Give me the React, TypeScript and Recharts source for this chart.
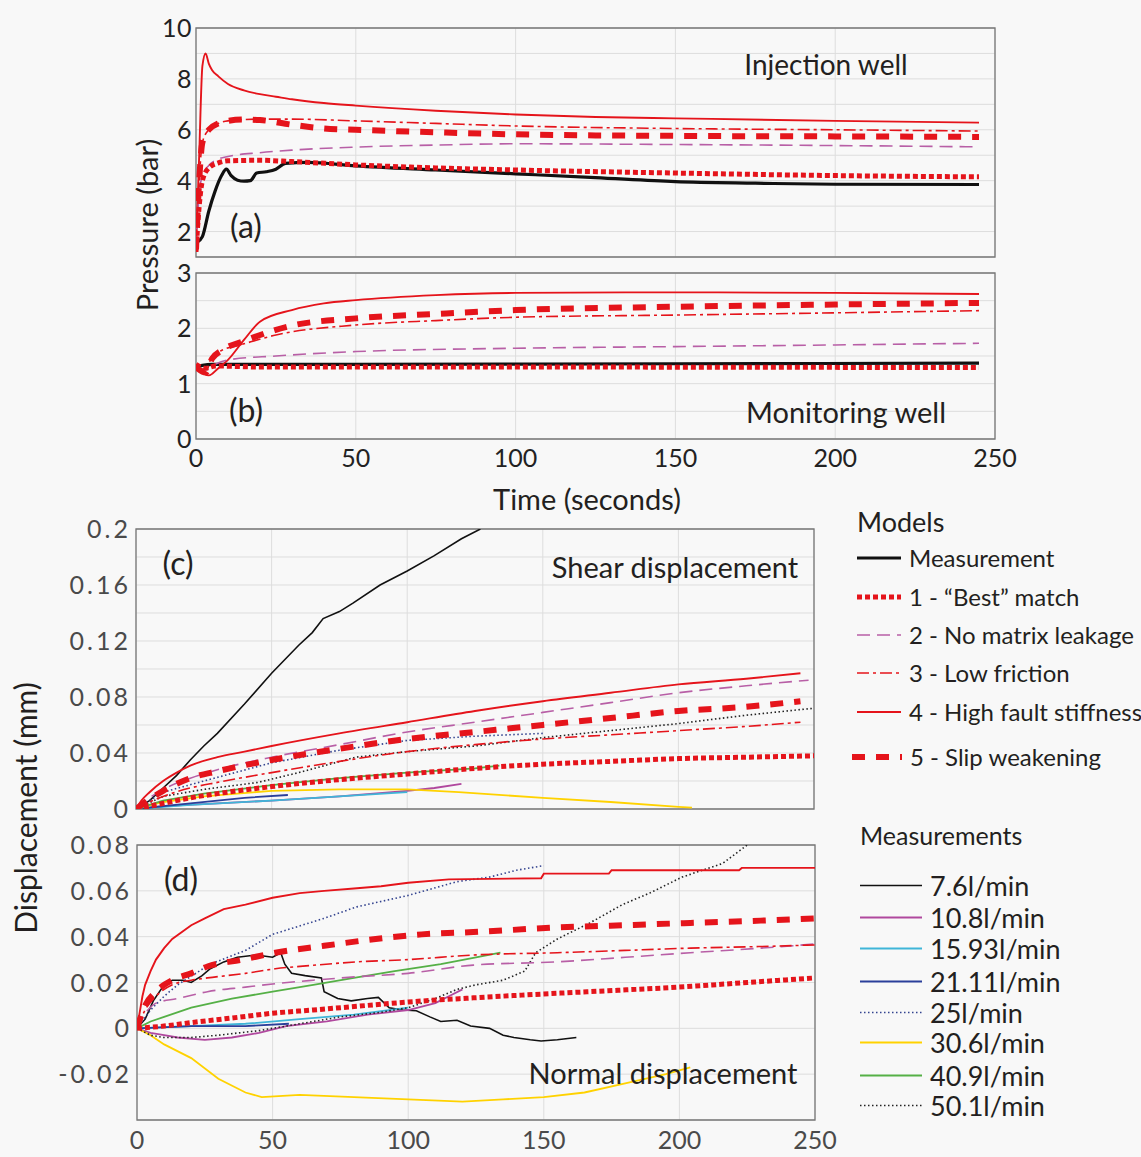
import { LineChart, Line, XAxis, YAxis, CartesianGrid, ReferenceArea } from "recharts";

type Pt = [number, number];

const TIME_TICKS = [0, 50, 100, 150, 200, 250];

// (a) injection well pressure, bar
const injMeasured: Pt[] = [[0.5, 1.6], [2, 1.8], [4, 2.8], [6, 3.6], [8, 4.2], [9.5, 4.45], [11, 4.2], [13, 4.02], [15, 3.98], [17, 4.0], [19, 4.3], [22, 4.35], [25, 4.45], [28, 4.68], [35, 4.72], [50, 4.58], [75, 4.42], [100, 4.27], [125, 4.12], [150, 3.96], [175, 3.9], [200, 3.86], [245, 3.85]];
const injBest: Pt[] = [[0, 1.2], [1, 3.0], [2, 4.0], [4, 4.5], [7, 4.7], [10, 4.78], [20, 4.8], [30, 4.75], [50, 4.62], [75, 4.5], [100, 4.42], [150, 4.3], [200, 4.2], [245, 4.15]];
const injNoLeak: Pt[] = [[0, 1.3], [1, 3.5], [2, 4.2], [4, 4.6], [7, 4.85], [10, 4.95], [20, 5.1], [30, 5.2], [50, 5.32], [75, 5.4], [100, 5.45], [150, 5.42], [200, 5.38], [245, 5.33]];
const injLowFric: Pt[] = [[0, 1.3], [1, 4], [2, 5.5], [4, 6.0], [7, 6.25], [10, 6.35], [20, 6.42], [30, 6.42], [50, 6.35], [75, 6.25], [100, 6.15], [150, 6.05], [200, 6.0], [245, 5.95]];
const injStiff: Pt[] = [[0, 1.3], [1, 5], [2, 8.5], [3, 9.0], [4, 8.6], [5, 8.35], [7, 8.1], [10, 7.8], [15, 7.55], [20, 7.4], [25, 7.3], [30, 7.2], [40, 7.05], [50, 6.95], [75, 6.75], [100, 6.6], [125, 6.5], [150, 6.45], [200, 6.35], [245, 6.28]];
const injSlip: Pt[] = [[0, 1.3], [1, 4], [2, 5.5], [4, 6.0], [7, 6.25], [10, 6.35], [15, 6.4], [20, 6.38], [30, 6.2], [40, 6.05], [50, 6.0], [75, 5.9], [100, 5.82], [150, 5.76], [200, 5.74], [245, 5.72]];

// (b) monitoring well pressure, bar
const monMeasured: Pt[] = [[0, 1.3], [2, 1.33], [5, 1.35], [50, 1.35], [150, 1.36], [245, 1.37]];
const monBest: Pt[] = [[0, 1.35], [3, 1.28], [6, 1.32], [20, 1.3], [100, 1.3], [245, 1.29]];
const monNoLeak: Pt[] = [[0, 1.3], [3, 1.25], [6, 1.35], [10, 1.43], [25, 1.5], [50, 1.58], [100, 1.64], [150, 1.67], [200, 1.7], [245, 1.73]];
const monLowFric: Pt[] = [[0, 1.3], [3, 1.2], [5, 1.5], [8, 1.6], [15, 1.72], [25, 1.88], [50, 2.06], [75, 2.14], [100, 2.2], [150, 2.24], [200, 2.28], [245, 2.32]];
const monStiff: Pt[] = [[0, 1.3], [4, 1.15], [7, 1.28], [10, 1.43], [15, 1.79], [20, 2.12], [30, 2.33], [40, 2.45], [50, 2.51], [75, 2.6], [100, 2.64], [150, 2.65], [200, 2.64], [245, 2.62]];
const monSlip: Pt[] = [[0, 1.3], [3, 1.2], [5, 1.45], [8, 1.6], [15, 1.77], [30, 2.05], [50, 2.18], [75, 2.26], [100, 2.33], [150, 2.39], [200, 2.43], [245, 2.46]];

// (c) shear displacement, mm
const shear76: Pt[] = [[0, 0], [5, 0.006], [10, 0.015], [15, 0.024], [20, 0.035], [25, 0.045], [30, 0.054], [40, 0.075], [50, 0.097], [60, 0.117], [65, 0.126], [69, 0.136], [75, 0.141], [80, 0.147], [90, 0.16], [100, 0.17], [110, 0.181], [120, 0.193], [127, 0.2]];
const shear108: Pt[] = [[0, 0], [10, 0.002], [30, 0.004], [50, 0.006], [75, 0.009], [100, 0.013], [110, 0.015], [120, 0.018]];
const shear1593: Pt[] = [[0, 0], [20, 0.003], [50, 0.006], [75, 0.009], [100, 0.012]];
const shear2111: Pt[] = [[0, 0], [20, 0.004], [40, 0.008], [56, 0.01]];
const shear25: Pt[] = [[0, 0], [10, 0.012], [25, 0.02], [50, 0.033], [75, 0.042], [100, 0.049], [125, 0.052], [150, 0.054]];
const shear306: Pt[] = [[0, 0], [10, 0.005], [25, 0.009], [50, 0.013], [75, 0.014], [100, 0.014], [119, 0.012], [150, 0.008], [175, 0.005], [200, 0.0015], [205, 0.001]];
const shear409: Pt[] = [[0, 0], [10, 0.006], [25, 0.011], [50, 0.017], [75, 0.022], [100, 0.026], [125, 0.029], [134, 0.031]];
const shear501: Pt[] = [[0, 0], [10, 0.009], [25, 0.014], [45, 0.019], [60, 0.026], [81, 0.037], [100, 0.041], [125, 0.045], [150, 0.051], [175, 0.056], [200, 0.061], [225, 0.067], [250, 0.072]];
const shearBest: Pt[] = [[0, 0], [10, 0.004], [20, 0.008], [30, 0.011], [50, 0.016], [75, 0.021], [100, 0.025], [125, 0.029], [150, 0.032], [175, 0.034], [200, 0.036], [225, 0.037], [250, 0.038]];
const shearNoLeak: Pt[] = [[0, 0], [5, 0.008], [10, 0.014], [20, 0.022], [30, 0.028], [50, 0.037], [75, 0.046], [100, 0.055], [125, 0.062], [150, 0.069], [175, 0.076], [200, 0.083], [225, 0.088], [248, 0.092]];
const shearLowFric: Pt[] = [[0, 0], [5, 0.005], [10, 0.009], [20, 0.015], [30, 0.019], [50, 0.026], [75, 0.034], [100, 0.041], [125, 0.046], [150, 0.05], [175, 0.053], [200, 0.056], [225, 0.059], [245, 0.062]];
const shearStiff: Pt[] = [[0, 0], [2, 0.006], [5, 0.012], [10, 0.02], [15, 0.026], [20, 0.031], [30, 0.037], [40, 0.041], [50, 0.045], [75, 0.054], [100, 0.062], [125, 0.07], [150, 0.077], [175, 0.083], [200, 0.089], [225, 0.093], [245, 0.097]];
const shearSlip: Pt[] = [[0, 0], [5, 0.007], [10, 0.013], [20, 0.022], [30, 0.027], [50, 0.035], [75, 0.043], [100, 0.05], [125, 0.055], [150, 0.06], [175, 0.065], [200, 0.07], [225, 0.073], [245, 0.077]];

// (d) normal displacement, mm
const normal76: Pt[] = [[0, 0], [3, 0.004], [6, 0.012], [10, 0.019], [13, 0.021], [17, 0.021], [20, 0.02], [24, 0.023], [27, 0.026], [32, 0.029], [37, 0.031], [44, 0.032], [50, 0.031], [53, 0.033], [54.5, 0.028], [57, 0.024], [62, 0.023], [68, 0.022], [69, 0.016], [74, 0.013], [79, 0.012], [85, 0.013], [89, 0.0135], [93, 0.009], [98, 0.008], [103, 0.0077], [108, 0.005], [112, 0.003], [118, 0.0035], [123, 0.001], [130, 0], [135, -0.003], [139, -0.004], [145, -0.005], [149, -0.0055], [155, -0.005], [162, -0.004]];
const normal108: Pt[] = [[0, 0], [5, -0.002], [10, -0.003], [15, -0.004], [25, -0.005], [35, -0.004], [45, -0.002], [55, 0.001], [70, 0.003], [85, 0.006], [100, 0.008], [110, 0.011], [115, 0.014], [120, 0.017]];
const normal1593: Pt[] = [[0, 0], [20, 0.001], [40, 0.002], [60, 0.004], [80, 0.006], [100, 0.009]];
const normal2111: Pt[] = [[0, 0], [20, 0.001], [40, 0.001], [56, 0.002]];
const normal25: Pt[] = [[0, 0], [5, 0.008], [10, 0.014], [15, 0.019], [27, 0.028], [40, 0.034], [50, 0.041], [69, 0.048], [81, 0.053], [100, 0.058], [118, 0.064], [130, 0.066], [140, 0.069], [150, 0.071]];
const normal306: Pt[] = [[0, 0], [5, -0.003], [10, -0.007], [20, -0.013], [30, -0.022], [40, -0.028], [46, -0.03], [60, -0.029], [80, -0.03], [100, -0.031], [120, -0.032], [135, -0.031], [150, -0.03], [165, -0.028], [180, -0.024], [195, -0.02], [204, -0.017]];
const normal409: Pt[] = [[0, 0], [5, 0.003], [10, 0.005], [20, 0.009], [35, 0.013], [50, 0.016], [65, 0.019], [80, 0.022], [95, 0.025], [112, 0.028], [125, 0.031], [134, 0.033]];
const normal501: Pt[] = [[0, 0], [5, -0.003], [10, -0.004], [20, -0.004], [30, -0.003], [45, -0.001], [60, 0.002], [75, 0.005], [90, 0.007], [100, 0.009], [110, 0.013], [118, 0.017], [125, 0.019], [135, 0.021], [143, 0.025], [147, 0.033], [155, 0.039], [167, 0.046], [179, 0.054], [189, 0.059], [201, 0.066], [216, 0.072], [225, 0.08]];
const normalBest: Pt[] = [[0, 0], [10, 0.001], [20, 0.0025], [35, 0.0045], [51, 0.0067], [65, 0.008], [81, 0.0096], [100, 0.0115], [124, 0.0133], [150, 0.015], [179, 0.0167], [200, 0.018], [225, 0.02], [250, 0.022]];
const normalNoLeak: Pt[] = [[0, 0], [2, 0.005], [4, 0.008], [7, 0.011], [15, 0.013], [26, 0.016], [40, 0.018], [51, 0.0195], [65, 0.021], [81, 0.0225], [100, 0.024], [124, 0.0276], [155, 0.029], [180, 0.031], [204, 0.033], [230, 0.035], [250, 0.0368]];
const normalLowFric: Pt[] = [[0, 0], [3, 0.008], [7, 0.014], [13, 0.019], [20, 0.021], [26, 0.022], [40, 0.024], [51, 0.026], [65, 0.0275], [81, 0.029], [100, 0.03], [124, 0.032], [155, 0.033], [180, 0.034], [204, 0.035], [230, 0.0357], [250, 0.0364]];
const normalStiff: Pt[] = [[0, 0], [1, 0.007], [2, 0.014], [3, 0.019], [5, 0.025], [7, 0.03], [10, 0.035], [13, 0.039], [20, 0.045], [25, 0.048], [32, 0.052], [40, 0.054], [50, 0.057], [60, 0.059], [69, 0.06], [80, 0.061], [90, 0.062], [100, 0.0635], [115, 0.065], [149, 0.0655], [150, 0.0675], [174, 0.0675], [175, 0.069], [222, 0.069], [223, 0.07], [250, 0.07]];
const normalSlip: Pt[] = [[0, 0], [3, 0.01], [7, 0.016], [13, 0.021], [20, 0.024], [26, 0.027], [39, 0.03], [51, 0.033], [69, 0.036], [88, 0.039], [105, 0.041], [124, 0.042], [155, 0.044], [180, 0.045], [204, 0.046], [230, 0.047], [250, 0.048]];

const RED = "#e5141b";
const PINK = "#b85fa6";
const INK = "#231f20";

type LineStyle = { stroke: string; width: number; dash?: string };

const modelStyle: Record<string, LineStyle> = {
  measured: { stroke: "#111111", width: 3.2 },
  best: { stroke: RED, width: 5, dash: "5 3" },
  noLeak: { stroke: PINK, width: 1.6, dash: "13 7" },
  lowFric: { stroke: RED, width: 1.6, dash: "12 4 3 4" },
  stiff: { stroke: RED, width: 1.9 },
  slip: { stroke: RED, width: 6, dash: "13 11" },
};

const rateStyle: Record<string, LineStyle> = {
  r76: { stroke: "#111111", width: 1.6 },
  r108: { stroke: "#b0489e", width: 1.8 },
  r1593: { stroke: "#3fb5d8", width: 1.8 },
  r2111: { stroke: "#2b3f9a", width: 1.8 },
  r25: { stroke: "#33438f", width: 1.6, dash: "1.5 2.5" },
  r306: { stroke: "#ffd200", width: 1.8 },
  r409: { stroke: "#55b046", width: 1.8 },
  r501: { stroke: "#222222", width: 1.6, dash: "1.5 2.5" },
};

type Series = { id: string; pts: Pt[]; style: LineStyle; curve?: "linear" | "monotone" };

const toRows = (pts: Pt[]) => pts.map(([t, v]) => ({ t, v }));

interface PanelProps {
  x: number;
  y: number;
  plotW: number;
  plotH: number;
  yAxisW: number;
  xAxisH?: number;
  xTickGap?: number;
  domain: [number, number];
  ticks: number[];
  labels: number[];
  series: Series[];
  tickColor: string;
  tickGap: number;
  tickSpacing: number;
  rightTicks?: boolean;
}

function Panel({ x, y, plotW, plotH, yAxisW, xAxisH, xTickGap = 4, domain, ticks, labels, series, tickColor, tickGap, tickSpacing, rightTicks }: PanelProps) {
  const bottomPad = 16;
  const margin = { top: 22, right: 36, bottom: xAxisH ? 0 : bottomPad, left: 0 };
  const width = yAxisW + plotW + margin.right;
  const height = margin.top + plotH + (xAxisH ?? bottomPad);

  // only every other gridline value carries a label
  const renderYTick = (p: any) => {
    const v = p.payload.value as number;
    if (!labels.includes(v)) return <g />;
    return (
      <text x={p.x} y={p.y} dy="0.36em" textAnchor="end" fontSize={25} fill={tickColor} letterSpacing={tickSpacing}>
        {String(v)}
      </text>
    );
  };

  return (
    <div style={{ position: "absolute", left: x - yAxisW, top: y - margin.top }}>
      <LineChart width={width} height={height} margin={margin}>
        <CartesianGrid stroke="#dddddd" strokeWidth={1} />
        <XAxis
          dataKey="t"
          type="number"
          domain={[0, 250]}
          ticks={TIME_TICKS}
          hide={!xAxisH}
          height={xAxisH ?? 0}
          allowDataOverflow
          tickLine={false}
          axisLine={false}
          tickMargin={xTickGap}
          tick={{ fontSize: 25, fill: tickColor }}
        />
        <YAxis
          type="number"
          domain={domain}
          ticks={ticks}
          interval={0}
          width={yAxisW}
          allowDataOverflow
          tickLine={false}
          axisLine={false}
          tickSize={0}
          tickMargin={tickGap}
          tick={renderYTick}
        />
        {rightTicks && (
          <YAxis
            yAxisId="r"
            orientation="right"
            mirror
            type="number"
            domain={domain}
            ticks={ticks}
            interval={0}
            width={8}
            tick={false}
            tickSize={6}
            axisLine={false}
            tickLine={{ stroke: "#777777" }}
          />
        )}
        <ReferenceArea x1={0} x2={250} y1={domain[0]} y2={domain[1]} fill="none" stroke="#777777" strokeWidth={1.3} />
        {series.map((s) => (
          <Line
            key={s.id}
            data={toRows(s.pts)}
            dataKey="v"
            type={s.curve ?? "linear"}
            stroke={s.style.stroke}
            strokeWidth={s.style.width}
            strokeDasharray={s.style.dash}
            dot={false}
            activeDot={false}
            isAnimationActive={false}
          />
        ))}
      </LineChart>
    </div>
  );
}

const injSeries: Series[] = [
  { id: "measured", pts: injMeasured, style: modelStyle.measured, curve: "monotone" },
  { id: "stiff", pts: injStiff, style: modelStyle.stiff, curve: "monotone" },
  { id: "lowFric", pts: injLowFric, style: modelStyle.lowFric, curve: "monotone" },
  { id: "noLeak", pts: injNoLeak, style: modelStyle.noLeak, curve: "monotone" },
  { id: "slip", pts: injSlip, style: modelStyle.slip, curve: "monotone" },
  { id: "best", pts: injBest, style: modelStyle.best, curve: "monotone" },
];

const monSeries: Series[] = [
  { id: "measured", pts: monMeasured, style: modelStyle.measured, curve: "monotone" },
  { id: "stiff", pts: monStiff, style: modelStyle.stiff, curve: "monotone" },
  { id: "lowFric", pts: monLowFric, style: modelStyle.lowFric, curve: "monotone" },
  { id: "noLeak", pts: monNoLeak, style: modelStyle.noLeak, curve: "monotone" },
  { id: "slip", pts: monSlip, style: modelStyle.slip, curve: "monotone" },
  { id: "best", pts: monBest, style: modelStyle.best, curve: "monotone" },
];

const shearSeries: Series[] = [
  { id: "r76", pts: shear76, style: rateStyle.r76 },
  { id: "r108", pts: shear108, style: rateStyle.r108 },
  { id: "r1593", pts: shear1593, style: rateStyle.r1593 },
  { id: "r2111", pts: shear2111, style: rateStyle.r2111 },
  { id: "r25", pts: shear25, style: rateStyle.r25 },
  { id: "r306", pts: shear306, style: rateStyle.r306 },
  { id: "r409", pts: shear409, style: rateStyle.r409 },
  { id: "r501", pts: shear501, style: rateStyle.r501 },
  { id: "stiff", pts: shearStiff, style: modelStyle.stiff, curve: "monotone" },
  { id: "noLeak", pts: shearNoLeak, style: modelStyle.noLeak, curve: "monotone" },
  { id: "lowFric", pts: shearLowFric, style: modelStyle.lowFric, curve: "monotone" },
  { id: "slip", pts: shearSlip, style: modelStyle.slip, curve: "monotone" },
  { id: "best", pts: shearBest, style: modelStyle.best, curve: "monotone" },
];

const normalSeries: Series[] = [
  { id: "r76", pts: normal76, style: rateStyle.r76 },
  { id: "r108", pts: normal108, style: rateStyle.r108 },
  { id: "r1593", pts: normal1593, style: rateStyle.r1593 },
  { id: "r2111", pts: normal2111, style: rateStyle.r2111 },
  { id: "r25", pts: normal25, style: rateStyle.r25 },
  { id: "r306", pts: normal306, style: rateStyle.r306 },
  { id: "r409", pts: normal409, style: rateStyle.r409 },
  { id: "r501", pts: normal501, style: rateStyle.r501 },
  { id: "stiff", pts: normalStiff, style: modelStyle.stiff },
  { id: "noLeak", pts: normalNoLeak, style: modelStyle.noLeak, curve: "monotone" },
  { id: "lowFric", pts: normalLowFric, style: modelStyle.lowFric, curve: "monotone" },
  { id: "slip", pts: normalSlip, style: modelStyle.slip, curve: "monotone" },
  { id: "best", pts: normalBest, style: modelStyle.best, curve: "monotone" },
];

const modelLegend = [
  { label: "Measurement", style: modelStyle.measured },
  { label: "1 - \u201cBest\u201d match", style: modelStyle.best },
  { label: "2 - No matrix leakage", style: modelStyle.noLeak },
  { label: "3 - Low friction", style: modelStyle.lowFric },
  { label: "4 - High fault stiffness", style: modelStyle.stiff },
  { label: "5 - Slip weakening", style: modelStyle.slip },
];
const modelLegendY = [558, 597, 635, 673, 712, 757];

const rateLegend = [
  { label: "7.6l/min", style: rateStyle.r76 },
  { label: "10.8l/min", style: rateStyle.r108 },
  { label: "15.93l/min", style: rateStyle.r1593 },
  { label: "21.11l/min", style: rateStyle.r2111 },
  { label: "25l/min", style: rateStyle.r25 },
  { label: "30.6l/min", style: rateStyle.r306 },
  { label: "40.9l/min", style: rateStyle.r409 },
  { label: "50.1l/min", style: rateStyle.r501 },
];
const rateLegendY = [885, 917, 948, 981, 1012, 1042, 1075, 1105];

function Label({ x, y, text, size = 29, rotate, anchor = "center" }: { x: number; y: number; text: string; size?: number; rotate?: boolean; anchor?: "center" | "left" }) {
  const tx = anchor === "center" ? "-50%" : "0";
  return (
    <div
      style={{
        position: "absolute",
        left: x,
        top: y,
        fontSize: size,
        lineHeight: 1,
        color: INK,
        whiteSpace: "nowrap",
        transform: `translate(${tx}, -50%)${rotate ? " rotate(-90deg)" : ""}`,
        transformOrigin: "center",
      }}
    >
      {text}
    </div>
  );
}

function LegendRow({ x, y, lineW, text, style, size }: { x: number; y: number; lineW: number; text: string; style: LineStyle; size: number }) {
  return (
    <div style={{ position: "absolute", left: x, top: y, transform: "translateY(-50%)", display: "flex", alignItems: "center" }}>
      <svg width={lineW} height={10} style={{ display: "block" }}>
        <line x1={0} y1={5} x2={lineW} y2={5} stroke={style.stroke} strokeWidth={style.width} strokeDasharray={style.dash} />
      </svg>
      <span style={{ marginLeft: 8, fontSize: size, lineHeight: 1, color: INK, whiteSpace: "nowrap" }}>{text}</span>
    </div>
  );
}

export default function App() {
  return (
    <div
      style={{
        position: "absolute",
        left: 0,
        top: 0,
        width: 1141,
        height: 1157,
        overflow: "hidden",
        background: "#f8f8f8",
        fontFamily: "Lato, 'Open Sans', sans-serif",
      }}
    >
      <Panel x={196} y={28} plotW={799} plotH={229} yAxisW={60} domain={[1, 10]} ticks={[1, 2, 3, 4, 5, 6, 7, 8, 9, 10]} labels={[2, 4, 6, 8, 10]} series={injSeries} tickColor="#222222" tickGap={4} tickSpacing={0.5} />
      <Panel x={196} y={273} plotW={799} plotH={166} yAxisW={60} xAxisH={42} xTickGap={4} domain={[0, 3]} ticks={[0, 0.5, 1, 1.5, 2, 2.5, 3]} labels={[0, 1, 2, 3]} series={monSeries} tickColor="#222222" tickGap={4} tickSpacing={0.5} rightTicks />
      <Panel x={136} y={529} plotW={678} plotH={280} yAxisW={80} domain={[0, 0.2]} ticks={[0, 0.02, 0.04, 0.06, 0.08, 0.1, 0.12, 0.14, 0.16, 0.18, 0.2]} labels={[0, 0.04, 0.08, 0.12, 0.16, 0.2]} series={shearSeries} tickColor="#4a4a4a" tickGap={5} tickSpacing={3} rightTicks />
      <Panel x={137} y={845} plotW={678} plotH={275} yAxisW={80} xAxisH={34} xTickGap={5} domain={[-0.04, 0.08]} ticks={[-0.04, -0.02, 0, 0.02, 0.04, 0.06, 0.08]} labels={[-0.02, 0, 0.02, 0.04, 0.06, 0.08]} series={normalSeries} tickColor="#4a4a4a" tickGap={5} tickSpacing={3} rightTicks />

      <Label x={826} y={64} text="Injection well" size={28} />
      <Label x={246} y={226} text="(a)" size={32} />
      <Label x={246} y={410} text="(b)" size={32} />
      <Label x={846} y={411} text="Monitoring well" />
      <Label x={587} y={498} text="Time (seconds)" />
      <Label x={146} y={225} text="Pressure (bar)" size={29} rotate />
      <Label x={178} y={563} text="(c)" size={32} />
      <Label x={675} y={566} text="Shear displacement" />
      <Label x={181} y={879} text="(d)" size={32} />
      <Label x={663} y={1072} text="Normal displacement" />
      <Label x={25} y={808} text="Displacement (mm)" size={30} rotate />

      <Label x={857} y={521} text="Models" size={27} anchor="left" />
      {modelLegend.map((m, i) => (
        <LegendRow key={m.label} x={i === 5 ? 852 : 857} y={modelLegendY[i]} lineW={i === 5 ? 50 : 44} text={m.label} style={m.style} size={24} />
      ))}
      <Label x={860} y={835} text="Measurements" size={25} anchor="left" />
      {rateLegend.map((r, i) => (
        <LegendRow key={r.label} x={860} y={rateLegendY[i]} lineW={62} text={r.label} style={r.style} size={27} />
      ))}
    </div>
  );
}
